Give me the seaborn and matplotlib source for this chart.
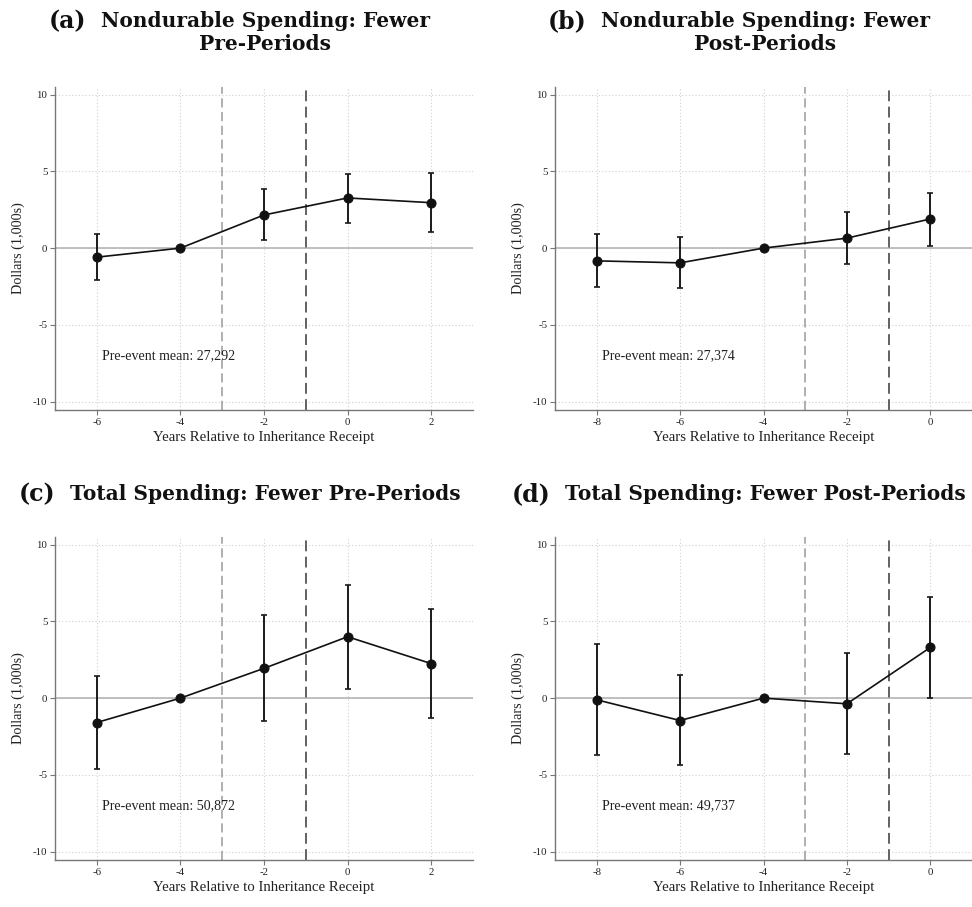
import matplotlib
matplotlib.use("Agg")
import matplotlib.pyplot as plt
import seaborn as sns
import pandas as pd

# Event-study coefficients (thousands of dollars) and 95% CI bounds
years_pre = [-6, -4, -2, 0, 2]
years_post = [-8, -6, -4, -2, 0]

nondur_pre_coef = [-0.59, 0.0, 2.16, 3.27, 2.96]
nondur_pre_lo = [-2.05, 0.0, 0.52, 1.66, 1.05]
nondur_pre_hi = [0.89, 0.0, 3.83, 4.86, 4.90]

nondur_post_coef = [-0.83, -0.96, 0.0, 0.65, 1.90]
nondur_post_lo = [-2.55, -2.59, 0.0, -1.05, 0.17]
nondur_post_hi = [0.92, 0.70, 0.0, 2.37, 3.62]

total_pre_coef = [-1.59, 0.0, 1.94, 4.00, 2.25]
total_pre_lo = [-4.63, 0.0, -1.48, 0.59, -1.29]
total_pre_hi = [1.46, 0.0, 5.39, 7.40, 5.81]

total_post_coef = [-0.11, -1.46, 0.0, -0.37, 3.30]
total_post_lo = [-3.73, -4.39, 0.0, -3.65, 0.02]
total_post_hi = [3.52, 1.48, 0.0, 2.93, 6.57]

panel_labels = ["(a)", "(b)", "(c)", "(d)"]
panel_titles = [
    ["Nondurable Spending: Fewer", "Pre-Periods"],
    ["Nondurable Spending: Fewer", "Post-Periods"],
    ["Total Spending: Fewer Pre-Periods"],
    ["Total Spending: Fewer Post-Periods"],
]
pre_event_means = ["27,292", "27,374", "50,872", "49,737"]

y_ticks = [-10, -5, 0, 5, 10]
x_label = "Years Relative to Inheritance Receipt"
y_label = "Dollars (1,000s)"

sns.set_style("white")
plt.rcParams["font.family"] = ["Liberation Serif", "DejaVu Serif"]
plt.rcParams["axes.unicode_minus"] = False

fig = plt.figure(figsize=(9.72, 9.07), dpi=100)
W, H = 972, 907

panels = [
    (years_pre, nondur_pre_coef, nondur_pre_lo, nondur_pre_hi, (-7, 3)),
    (years_post, nondur_post_coef, nondur_post_lo, nondur_post_hi, (-9, 1)),
    (years_pre, total_pre_coef, total_pre_lo, total_pre_hi, (-7, 3)),
    (years_post, total_post_coef, total_post_lo, total_post_hi, (-9, 1)),
]
# axes boxes in pixels: left, top, right, bottom
boxes = [(55, 87, 473, 410), (555, 87, 972, 410),
         (55, 537, 473, 860), (555, 537, 972, 860)]
title_baseline = [27, 27, 500, 500]

for i, ((xs, coef, lo, hi, xlim), (l, t, r, b)) in enumerate(zip(panels, boxes)):
    ax = fig.add_axes([l / W, 1 - b / H, (r - l) / W, (b - t) / H])
    df = pd.DataFrame({"year": xs, "coef": coef, "lo": lo, "hi": hi})

    ax.set_xlim(*xlim)
    ax.set_ylim(-10.55, 10.5)
    ax.set_yticks(y_ticks)
    ax.set_xticks(xs)
    ax.grid(True, linestyle=(0, (1, 2)), color="#d0d0d0", linewidth=0.8)
    ax.set_axisbelow(True)

    ax.axhline(0, color="#b5b5b5", linewidth=1.2, zorder=1)
    ax.axvline(-3, color="#9a9a9a", linewidth=1.1, linestyle=(0, (6, 3)), zorder=1)
    ax.axvline(-1, color="#555555", linewidth=1.3, linestyle=(0, (6, 3)), zorder=1)

    ax.errorbar(df["year"], df["coef"],
                yerr=[df["coef"] - df["lo"], df["hi"] - df["coef"]],
                fmt="none", ecolor="#1a1a1a", elinewidth=1.4,
                capsize=2.5, capthick=1.2, zorder=3)
    sns.lineplot(data=df, x="year", y="coef", ax=ax, color="#111111",
                 linewidth=1.2, marker="o", markersize=6.5,
                 markeredgecolor="#111111", markerfacecolor="#111111",
                 zorder=4)

    for side in ["top", "right"]:
        ax.spines[side].set_visible(False)
    for side in ["left", "bottom"]:
        ax.spines[side].set_color("#777777")
        ax.spines[side].set_linewidth(1.0)
    ax.tick_params(axis="both", which="both", direction="out", length=3.5,
                   width=0.8, color="#777777", labelsize=7.8,
                   labelcolor="#222222", pad=2, left=True, bottom=True)

    ax.set_ylabel(y_label, fontsize=10.2, color="#222222", labelpad=6)
    ax.set_xlabel(x_label, fontsize=10.7, color="#222222", labelpad=3)
    ax.text(xlim[0] + 1.12, -7.0, "Pre-event mean: " + pre_event_means[i],
            fontsize=10.1, color="#222222", va="center", ha="left")

# Panel headings: body centred over the axes, label hanging to the left
renderer = fig.canvas.get_renderer()
for i, (l, t, r, b) in enumerate(boxes):
    cx = ((l + l + 418) / 2 + 1) / W
    lines = panel_titles[i]
    first = None
    for j, line in enumerate(lines):
        txt = fig.text(cx, 1 - (title_baseline[i] + 23 * j) / H, line,
                       ha="center", va="baseline", fontsize=14.5,
                       family="DejaVu Serif", fontweight="bold",
                       color="#111111")
        if j == 0:
            first = txt
    bb = first.get_window_extent(renderer=renderer)
    fig.text((bb.x0 - 14) / W, 1 - (title_baseline[i] + 1) / H, panel_labels[i],
             ha="right", va="baseline", fontsize=17,
             family="DejaVu Serif", fontweight="bold", color="#111111")

fig.savefig("out.png", dpi=100)
